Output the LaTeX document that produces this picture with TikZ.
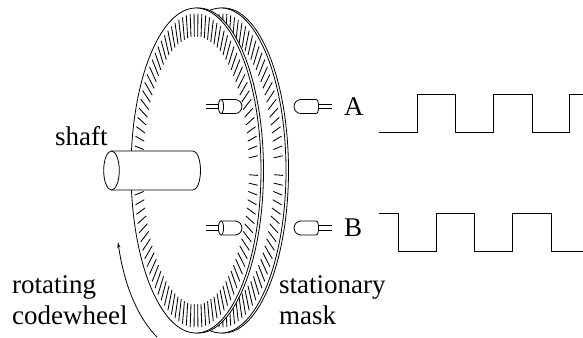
\documentclass[tikz,border=0pt]{standalone}
\usepackage{fontspec}
\setmainfont{Liberation Serif}
\usetikzlibrary{arrows.meta}
\tikzset{
  line/.style={line width=0.8pt,black},
  wave/.style={line width=1pt,black,line join=miter},
  lbl/.style={anchor=base west,inner sep=0pt,font=\fontsize{27}{27}\selectfont},
  tick/.style={line width=0.85pt,black},
}
% disk at centre x = #1
\newcommand{\wheel}[1]{%
  \draw[line,fill=white] (#1+2.5,170.5) ellipse [x radius=65,y radius=162.5];
  \draw[line,fill=white] (#1,170.5) ellipse [x radius=65,y radius=162.5];
  \foreach \a in {0,3.6,...,356.4}{
    \draw[tick] ({#1+53*cos(\a+1.8)},{170.5+134*sin(\a+1.8)}) -- ({#1+62*cos(\a+1.8)},{170.5+157*sin(\a+1.8)});
  }
}
% emitter at height #1
\newcommand{\emitter}[1]{%
  \draw[line] (206,#1-2.2) -- (221,#1-2.2) (206,#1+2.2) -- (221,#1+2.2);
  \draw[line,fill=white] (221,#1-7) -- (235,#1-7) arc[start angle=-90,end angle=90,radius=7] -- (221,#1+7);
  \draw[line,fill=white] (221,#1) ellipse [x radius=2.6,y radius=7];
}
% detector at height #1
\newcommand{\detector}[1]{%
  \draw[line] (318,#1-2.2) -- (332,#1-2.2) (318,#1+2.2) -- (332,#1+2.2);
  \draw[line,fill=white] (301,#1-7) -- (316,#1-7) .. controls (318,#1-7) and (318.5,#1-4) .. (318.5,#1)
     .. controls (318.5,#1+4) and (318,#1+7) .. (316,#1+7) -- (301,#1+7) arc[start angle=90,end angle=270,radius=7] -- cycle;
}
\begin{document}
\begin{tikzpicture}[x=1pt,y=-1pt]
\useasboundingbox (0,0) rectangle (583,337);
\wheel{221}
\wheel{196}
% shaft
\draw[line,fill=white] (111.5,151) -- (193,151) arc[start angle=-90,end angle=90,x radius=7.5,y radius=19.5] -- (111.5,190) -- cycle;
\draw[line,fill=white] (111.5,170.5) ellipse [x radius=7.8,y radius=19.5];
\emitter{106.5}
\emitter{228}
\detector{106.5}
\detector{228}
% rotation arrow
\coordinate (arrowstart) at (157,337);
\coordinate (arrowend) at (118,242);
\draw[line,-{Stealth[length=6pt,width=3pt]}] (arrowstart) .. controls (138,318) and (124,285) .. (arrowend);
% waveforms
\draw[wave] (379,132) -- (417,132) -- (417,94) -- (455,94) -- (455,132) -- (493,132) -- (493,94) -- (532,94) -- (532,132) -- (569,132) -- (569,94) -- (583,94);
\draw[wave] (379,213) -- (398,213) -- (398,251) -- (436,251) -- (436,213) -- (474,213) -- (474,251) -- (512,251) -- (512,213) -- (551,213) -- (551,251) -- (583,251);
% labels
\node[lbl] (shaft) at (55,145) {shaft};
\node[lbl] (a) at (344,115) {A};
\node[lbl] (b) at (344,236) {B};
\node[lbl] (rot) at (12,293) {rotating};
\node[lbl] (code) at (12,324) {codewheel};
\node[lbl] (stat) at (279,293) {stationary};
\node[lbl] (mask) at (279,324) {mask};
\end{tikzpicture}
\end{document}
